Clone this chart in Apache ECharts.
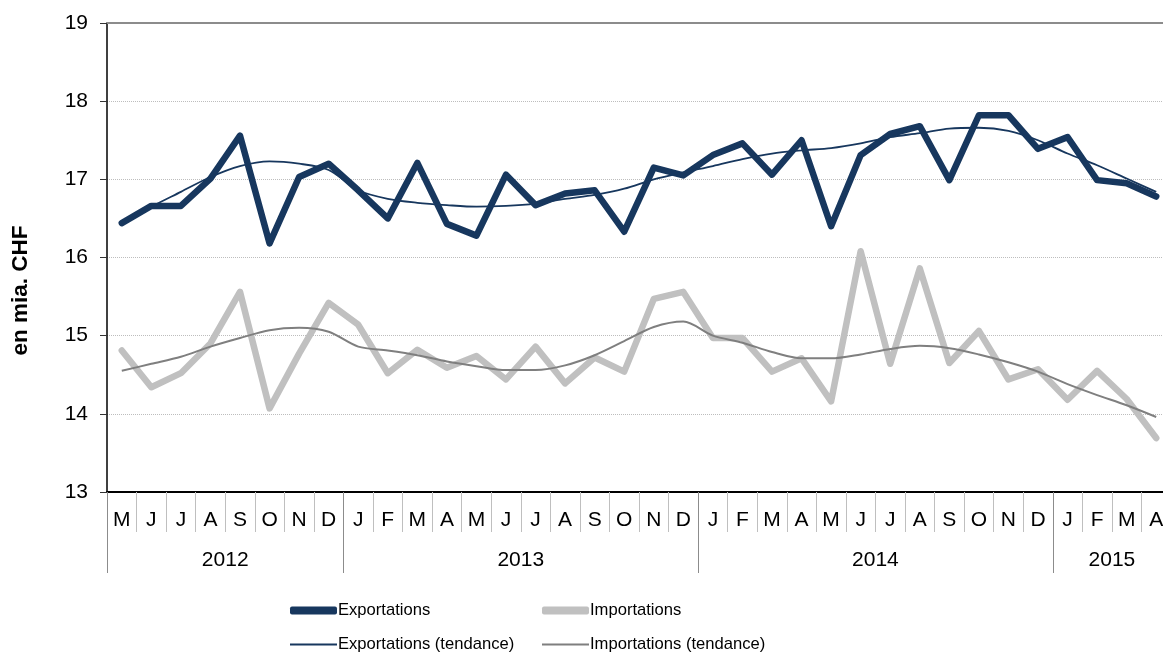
<!DOCTYPE html>
<html>
<head>
<meta charset="utf-8">
<script src="https://cdn.jsdelivr.net/npm/echarts@6/dist/echarts.min.js"></script>
<style>
html,body{margin:0;padding:0;background:#fff;overflow:hidden;}
#chart{width:1171px;height:653px;}
</style>
</head>
<body>
<div id="chart"></div>
<script>
var categories = ['2012-05','2012-06','2012-07','2012-08','2012-09','2012-10','2012-11','2012-12',
  '2013-01','2013-02','2013-03','2013-04','2013-05','2013-06','2013-07','2013-08','2013-09','2013-10','2013-11','2013-12',
  '2014-01','2014-02','2014-03','2014-04','2014-05','2014-06','2014-07','2014-08','2014-09','2014-10','2014-11','2014-12',
  '2015-01','2015-02','2015-03','2015-04'];
var monthLabels = ['M','J','J','A','S','O','N','D',
  'J','F','M','A','M','J','J','A','S','O','N','D',
  'J','F','M','A','M','J','J','A','S','O','N','D',
  'J','F','M','A'];
var yearLabels = ['2012','2013','2014','2015'];
var yearStarts = [0, 8, 20, 32];
var yearCenters = [4, 14, 26, 34];

var exportations = [16.44, 16.66, 16.66, 17.01, 17.56, 16.18, 17.03, 17.20,
  16.86, 16.50, 17.21, 16.43, 16.28, 17.06, 16.67, 16.82, 16.86, 16.33, 17.15, 17.05,
  17.31, 17.46, 17.06, 17.50, 16.40, 17.31, 17.58, 17.68, 16.99, 17.82, 17.82, 17.39,
  17.54, 16.99, 16.95, 16.78];
var importations = [14.81, 14.34, 14.52, 14.90, 15.56, 14.07, 14.77, 15.42,
  15.14, 14.52, 14.82, 14.59, 14.74, 14.44, 14.86, 14.39, 14.72, 14.54, 15.47, 15.56,
  14.97, 14.97, 14.54, 14.71, 14.16, 16.08, 14.64, 15.86, 14.65, 15.06, 14.44, 14.57,
  14.18, 14.55, 14.19, 13.69];
var exportationsTendance = [16.44, 16.65, 16.84, 17.03, 17.17, 17.23, 17.20, 17.12,
  16.86, 16.75, 16.70, 16.67, 16.65, 16.66, 16.69, 16.75, 16.80, 16.88, 17.00, 17.09,
  17.17, 17.26, 17.33, 17.37, 17.40, 17.46, 17.54, 17.59, 17.65, 17.66, 17.62, 17.50,
  17.33, 17.18, 17.01, 16.84];
var importationsTendance = [14.55, 14.64, 14.73, 14.86, 14.97, 15.07, 15.10, 15.05,
  14.86, 14.81, 14.75, 14.67, 14.61, 14.56, 14.56, 14.62, 14.75, 14.93, 15.11, 15.18,
  15.00, 14.91, 14.79, 14.71, 14.71, 14.76, 14.83, 14.87, 14.84, 14.76, 14.66, 14.54,
  14.38, 14.24, 14.11, 13.96];
var yTicks = [13, 14, 15, 16, 17, 18, 19];

var FONT = 'Liberation Sans, Arial, sans-serif';
var NAVY = '#17375E';
var LIGHT = '#C0C0C0';
var GREY = '#7F7F7F';

var chart = echarts.init(document.getElementById('chart'), null, {renderer: 'canvas'});

function legendFor(name, left, top, h) {
  return {
    data: [name], left: left, top: top, orient: 'horizontal',
    icon: h > 4 ? 'roundRect' : 'rect',
    itemWidth: 47, itemHeight: h, selectedMode: false,
    textStyle: {fontFamily: FONT, fontSize: 16.6, color: '#000', padding: [0, 0, 0, -4]}
  };
}

chart.setOption({
  animation: false,
  backgroundColor: '#fff',
  textStyle: {fontFamily: FONT},
  grid: {left: 107, top: 23, right: 0, bottom: 161, containLabel: false},
  legend: [
    legendFor('Exportations', 285, 597, 8),
    legendFor('Importations', 537, 597, 8),
    legendFor('Exportations (tendance)', 285, 631, 2),
    legendFor('Importations (tendance)', 537, 631, 2)
  ],
  xAxis: [
    {
      type: 'category', data: categories, position: 'bottom', boundaryGap: true,
      axisLine: {show: true, lineStyle: {color: '#000', width: 2}},
      axisTick: {show: true, interval: 0, length: 40, lineStyle: {color: '#BFBFBF', width: 1}},
      axisLabel: {interval: 0, margin: 18, fontSize: 21, color: '#000', fontFamily: FONT,
        formatter: function (v, i) { return monthLabels[i]; }},
      splitLine: {show: false}
    },
    {
      type: 'value', min: 0, max: categories.length, position: 'bottom',
      axisLine: {show: false},
      axisTick: {show: true, customValues: yearStarts, length: 81, lineStyle: {color: '#8C8C8C', width: 1}},
      axisLabel: {show: true, customValues: yearCenters, margin: 58, fontSize: 21, color: '#000', fontFamily: FONT,
        formatter: function (v) { return yearLabels[yearCenters.indexOf(Math.round(v))] || ''; }},
      splitLine: {show: false}
    },
    {
      type: 'category', data: categories, position: 'top',
      axisLine: {show: true, lineStyle: {color: '#8C8C8C', width: 2}},
      axisTick: {show: false}, axisLabel: {show: false}, splitLine: {show: false}
    }
  ],
  yAxis: {
    type: 'value', min: yTicks[0], max: yTicks[yTicks.length - 1], interval: 1,
    name: 'en mia. CHF', nameLocation: 'middle', nameGap: 75,
    nameTextStyle: {fontFamily: FONT, fontSize: 22.5, fontWeight: 'bold', color: '#000', padding: [0, 66, 0, 0]},
    axisLine: {show: true, lineStyle: {color: '#000', width: 1.5}},
    axisTick: {show: true, length: 7, lineStyle: {color: '#333', width: 1}},
    axisLabel: {margin: 19, fontSize: 21, color: '#000', fontFamily: FONT},
    splitLine: {show: true, lineStyle: {color: '#BDBDBD', type: 'dotted', width: 1}}
  },
  series: [
    {name: 'Exportations', type: 'line', data: exportations, showSymbol: false, symbol: 'none',
      color: NAVY, lineStyle: {color: NAVY, width: 6.5, cap: 'round', join: 'round'}, z: 2},
    {name: 'Importations', type: 'line', data: importations, showSymbol: false, symbol: 'none',
      color: LIGHT, lineStyle: {color: LIGHT, width: 6.5, cap: 'round', join: 'round'}, z: 2},
    {name: 'Exportations (tendance)', type: 'line', data: exportationsTendance, showSymbol: false, symbol: 'none',
      smooth: 0.3, color: NAVY, lineStyle: {color: NAVY, width: 1.8}, z: 3},
    {name: 'Importations (tendance)', type: 'line', data: importationsTendance, showSymbol: false, symbol: 'none',
      smooth: 0.3, color: GREY, lineStyle: {color: GREY, width: 2}, z: 3}
  ]
});
</script>
</body>
</html>
